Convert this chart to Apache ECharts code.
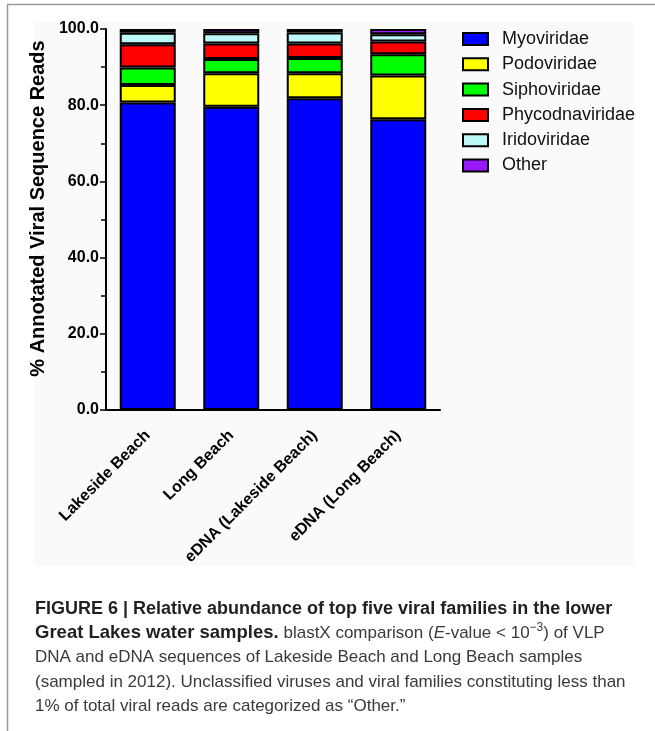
<!DOCTYPE html>
<html>
<head>
<meta charset="utf-8">
<script src="https://cdn.jsdelivr.net/npm/echarts@6/dist/echarts.min.js"></script>
<style>
html,body{margin:0;padding:0;background:#fff;}
#chart{width:655px;height:731px;}
</style>
</head>
<body>
<div id="chart"></div>
<script>
var categories = ['Lakeside Beach', 'Long Beach', 'eDNA (Lakeside Beach)', 'eDNA (Long Beach)'];
var seriesNames = ['Myoviridae', 'Podoviridae', 'Siphoviridae', 'Phycodnaviridae', 'Iridoviridae', 'Other'];
var myoviridae = [80.7, 79.6, 81.8, 76.3];
var podoviridae = [4.6, 8.8, 6.6, 11.5];
var siphoviridae = [4.6, 3.7, 4.0, 5.6];
var phycodnaviridae = [6.1, 4.1, 3.8, 3.3];
var iridoviridae = [3.0, 2.7, 2.9, 1.9];
var other = [1.0, 1.1, 0.9, 1.4];
var yTicks = [0, 20, 40, 60, 80, 100];
var colors = ['#0000ff', '#ffff00', '#00ff00', '#ff0000', '#bff8f8', '#9a1aff'];
var values = [myoviridae, podoviridae, siphoviridae, phycodnaviridae, iridoviridae, other];

var FONT = '"Liberation Sans", Arial, sans-serif';
var chart = echarts.init(document.getElementById('chart'), null, {renderer: 'canvas'});

var series = seriesNames.map(function (n, i) {
  return {
    name: n,
    type: 'bar',
    stack: 'total',
    barWidth: 56,
    data: values[i],
    itemStyle: {color: colors[i], borderColor: '#000', borderWidth: 2},
    emphasis: {disabled: true}
  };
});

var captionX = 35;
var REG = '17px ' + FONT;
var BOLD = 'bold 18px ' + FONT;
var TXT = '#3a3a3a';
var DARK = '#231f20';
var option = {
  animation: false,
  backgroundColor: '#ffffff',
  textStyle: {fontFamily: FONT},
  grid: {left: 106, top: 29, right: 215, bottom: 321, containLabel: false},
  legend: {
    orient: 'vertical',
    left: 457,
    top: 25,
    itemWidth: 25,
    itemHeight: 12,
    itemGap: 7.3,
    icon: 'rect',
    itemStyle: {borderColor: '#000', borderWidth: 2},
    textStyle: {fontFamily: FONT, fontSize: 18, color: '#111', lineHeight: 18, padding: [0, 0, 0, 9]},
    data: seriesNames
  },
  xAxis: {
    type: 'category',
    data: categories,
    axisLine: {lineStyle: {color: '#000', width: 2}},
    axisTick: {alignWithLabel: true, length: 6, lineStyle: {color: '#000', width: 1.5}},
    axisLabel: {rotate: 45, margin: 23, fontFamily: FONT, fontSize: 16, fontWeight: 'bold', color: '#000', interval: 0}
  },
  yAxis: {
    type: 'value',
    min: yTicks[0],
    max: yTicks[yTicks.length - 1],
    interval: 20,
    name: '% Annotated Viral Sequence Reads',
    nameLocation: 'middle',
    nameGap: 45,
    nameTextStyle: {fontFamily: FONT, fontSize: 20, fontWeight: 'bold', color: '#000', padding: [0, 0, 0, 22]},
    axisLine: {show: true, lineStyle: {color: '#000', width: 2}},
    axisTick: {show: true, length: 6, lineStyle: {color: '#000', width: 1.5}},
    minorTick: {show: true, splitNumber: 2, length: 5, lineStyle: {color: '#000', width: 1.5}},
    splitLine: {show: false},
    axisLabel: {
      margin: 7, fontFamily: FONT, fontSize: 16, fontWeight: 'bold', color: '#000',
      formatter: function (v) { return v.toFixed(1); }
    }
  },
  series: series,
  graphic: [
    {type: 'rect', z: -100, silent: true, shape: {x: 35, y: 22, width: 600, height: 544}, style: {fill: '#fafafa'}},
    {type: 'line', silent: true, shape: {x1: 7, y1: 4.5, x2: 655, y2: 4.5}, style: {stroke: '#9a9a9a', lineWidth: 1.5}},
    {type: 'line', silent: true, shape: {x1: 7.5, y1: 4, x2: 7.5, y2: 731}, style: {stroke: '#9a9a9a', lineWidth: 1.5}},
    {type: 'text', left: captionX, top: 600, style: {
      text: 'FIGURE 6 | Relative abundance of top five viral families in the lower',
      font: BOLD, fill: DARK}},
    {type: 'text', left: captionX, top: 622, style: {
      text: '{b|Great Lakes water samples.} blastX comparison ({i|E}-value < 10{s|\u22123}) of VLP',
      font: REG, fill: TXT, lineHeight: 22,
      rich: {
        b: {font: 'bold 18.5px ' + FONT, fill: DARK, lineHeight: 22},
        i: {font: 'italic ' + REG, fill: TXT, lineHeight: 22},
        s: {font: '12px ' + FONT, fill: TXT, lineHeight: 22, verticalAlign: 'top', padding: [0, 0, 8, 0]}
      }}},
    {type: 'text', left: captionX, top: 649, style: {
      text: 'DNA and eDNA sequences of Lakeside Beach and Long Beach samples',
      font: REG, fill: TXT}},
    {type: 'text', left: captionX, top: 674, style: {
      text: '(sampled in 2012). Unclassified viruses and viral families constituting less than',
      font: REG, fill: TXT}},
    {type: 'text', left: captionX, top: 698, style: {
      text: '1% of total viral reads are categorized as \u201cOther.\u201d',
      font: REG, fill: TXT}}
  ]
};
chart.setOption(option);
</script>
</body>
</html>
